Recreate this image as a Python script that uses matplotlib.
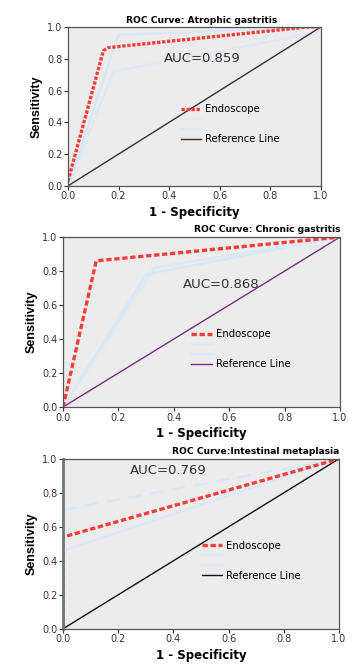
import matplotlib.pyplot as plt
from matplotlib.lines import Line2D

plt.rcParams['font.family'] = ['DejaVu Sans']

# data
titles = ["ROC Curve: Atrophic gastritis", "ROC Curve: Chronic gastritis", "ROC Curve:Intestinal metaplasia"]
auc_texts = ["AUC=0.859", "AUC=0.868", "AUC=0.769"]

endo_x = [[0.0, 0.14, 0.16, 0.95, 1.0], [0.0, 0.12, 1.0], [0.0, 0.0, 1.0]]
endo_y = [[0.03, 0.85, 0.87, 1.0, 1.0], [0.0, 0.86, 1.0], [0.0, 0.54, 1.0]]

# faint light-blue curves behind the red one
faint1_x = [[0.0, 0.2, 1.0], [0.0, 0.3, 1.0], [0.0, 1.0]]
faint1_y = [[0.0, 0.95, 1.0], [0.0, 0.78, 1.0], [0.7, 1.0]]
faint2_x = [[0.0, 0.18, 1.0], [0.0, 0.33, 1.0], [0.0, 1.0]]
faint2_y = [[0.0, 0.72, 0.97], [0.0, 0.82, 1.0], [0.46, 1.0]]

ref_colors = ["#333333", "#7a2f7a", "#111111"]
ticks = [0.0, 0.2, 0.4, 0.6, 0.8, 1.0]
tick_labels = ["0.0", "0.2", "0.4", "0.6", "0.8", "1.0"]

# layout (figure fractions) and text positions
boxes = [[0.193, 0.720, 0.719, 0.2395],
         [0.179, 0.387, 0.787, 0.256],
         [0.179, 0.053, 0.784, 0.256]]
title_x = [0.53, 1.0, 1.0]
auc_pos = [(0.53, 0.80), (0.57, 0.72), (0.38, 0.93)]
leg_pos = [(0.41, 0.57), (0.43, 0.51), (0.47, 0.57)]

fig = plt.figure(figsize=(3.52, 6.64), dpi=100)
fig.patch.set_facecolor("white")

for i in range(3):
    ax = fig.add_axes(boxes[i])
    ax.set_facecolor("#ececec")
    ax.plot(faint1_x[i], faint1_y[i], color="#d9e8f6", lw=1.6, ls=(0, (6, 4)) if i == 2 else "-")
    ax.plot(faint2_x[i], faint2_y[i], color="#dce9f6", lw=1.6)
    ax.plot([0, 1], [0, 1], color=ref_colors[i], lw=1.0)
    dash = (0, (1.0, 0.5)) if i == 0 else (0, (1.6, 0.8))
    ax.plot(endo_x[i], endo_y[i], color="#ff3b3b", lw=2.4, ls=dash)

    ax.set_xlim(0, 1)
    ax.set_ylim(0, 1)
    ax.set_xticks(ticks)
    ax.set_xticklabels(tick_labels)
    ax.set_yticks(ticks)
    ax.set_yticklabels(tick_labels)
    ax.tick_params(labelsize=7, length=3, width=0.8, colors="#333333", pad=1)
    for s in ax.spines.values():
        s.set_color("#555555")
        s.set_linewidth(0.9)
    if i == 2:
        ax.spines["left"].set_linewidth(2.0)
        ax.spines["left"].set_color("#6b7680")

    ax.text(title_x[i], 1.015, titles[i], transform=ax.transAxes, fontsize=6.6, fontweight="bold",
            ha="center" if i == 0 else "right", va="bottom")
    ax.set_xlabel("1 - Specificity", fontsize=8.5, fontweight="bold", labelpad=3)
    ax.set_ylabel("Sensitivity", fontsize=9, fontweight="bold",
                  family=["Liberation Sans Narrow", "Liberation Sans", "DejaVu Sans"], labelpad=3)
    ax.text(auc_pos[i][0], auc_pos[i][1], auc_texts[i], transform=ax.transAxes,
            fontsize=9.5, color="#333333", ha="center", va="center")

    handles = [Line2D([], [], color="#ff3b3b", lw=2.4, ls=dash),
               Line2D([], [], color="#dce9f6", lw=1.6),
               Line2D([], [], color="#dce9f6", lw=1.6),
               Line2D([], [], color=ref_colors[i], lw=1.0)]
    ax.legend(handles, ["Endoscope", " ", " ", "Reference Line"], frameon=False,
              fontsize=7.3, loc="upper left", bbox_to_anchor=leg_pos[i],
              handlelength=2.0, handletextpad=0.4, labelspacing=0.0)

fig.savefig("out.png", dpi=100)
